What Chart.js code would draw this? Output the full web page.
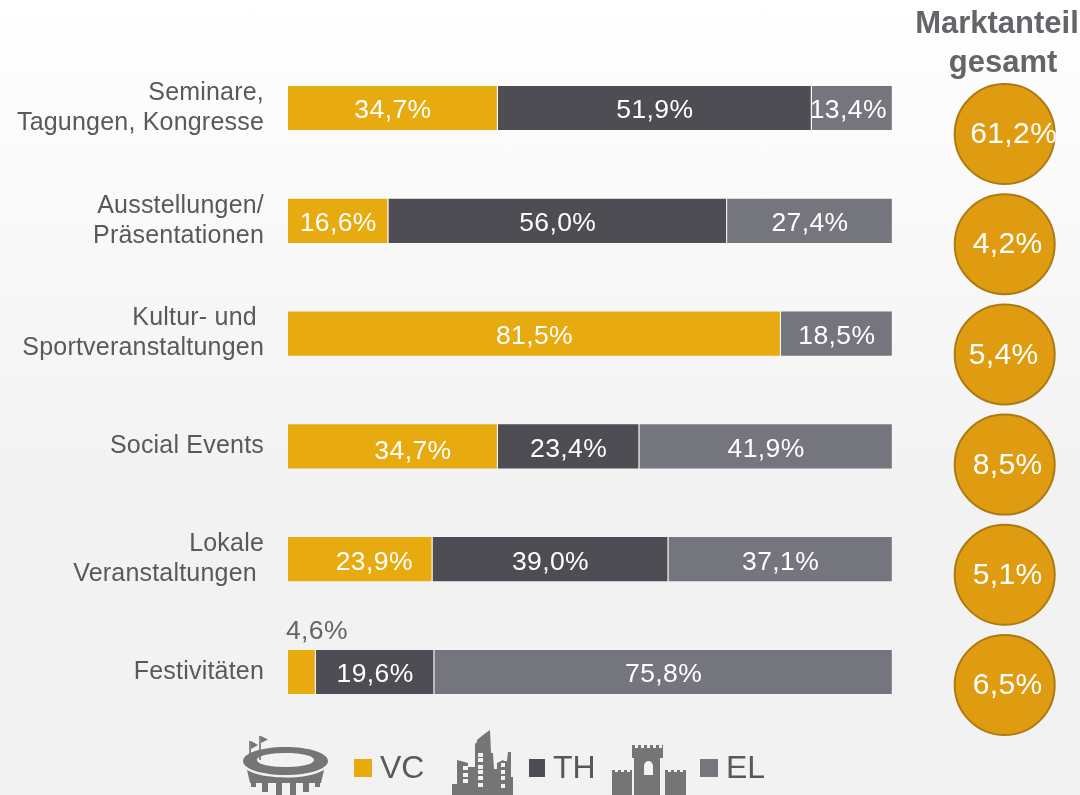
<!DOCTYPE html>
<html lang="de">
<head>
<meta charset="utf-8">
<title>Marktanteil</title>
<script src="https://cdn.jsdelivr.net/npm/chart.js@4"></script>
<style>
html,body{margin:0;padding:0;width:1080px;height:795px;overflow:hidden;background:linear-gradient(#ffffff 0,#fdfdfd 60px,#f2f2f2 500px,#f2f2f2 795px);}
#wrap{position:absolute;left:0;top:0;width:1080px;height:795px}
canvas{position:absolute;left:0;top:0}
svg{position:absolute;left:0;top:0;filter:blur(0.6px)}
</style>
</head>
<body>
<div id="wrap">
<svg width="1080" height="795" viewBox="0 0 1080 795" aria-hidden="true">
  <g fill="#757575" stroke="none">
    <!-- stadium -->
    <path d="M250 766V741M260 760V736" stroke="#8a8a8a" stroke-width="2"/>
    <path d="M251 741l7 4-7 4zM261 736l7 3.500-7 3.500z"/>
    <path fill-rule="evenodd" d="M243 761c0-8 19-14 42.500-14s42.500 6 42.500 14-19 14-42.500 14-42.500-6-42.500-14zM257 760c0 4 12 7 28.500 7s28.500-3 28.500-7-12-7-28.500-7-28.500 3-28.500 7z"/>
    <path d="M247 770C258 776 272 777.500 285.500 777.500S313 776 324 770L321 783H250Z"/>
    <rect x="251" y="782" width="5" height="5"/><rect x="262" y="782" width="6" height="10"/><rect x="276" y="782" width="6" height="13"/><rect x="290" y="782" width="6" height="13"/><rect x="303" y="782" width="6" height="10"/><rect x="315" y="782" width="5" height="5"/>
    <!-- city -->
    <path fill-rule="evenodd" d="M452 795v-11h5v-24l4 1 7 2v4h7v-23l2-2v-2l6-5 7-5 1 23h2v1l1 15h3v-6l6-3 1 1h3l1-9h3v25h2v19zM478 753h5v4h-5zM478 758h5v4h-5zM478 765h5v4h-5zM478 770h5v4h-5zM478 776h5v4h-5zM478 783h5v4h-5zM463 766h5v4h-5zM463 773h5v4h-5zM463 779h5v4h-5zM501 763h4v4h-4zM501 770h4v4h-4zM501 776h4v4h-4zM501 784h4v4h-4z"/>
    <!-- castle -->
    <path d="M612 795v-25h3v2h3v-2h3v2h3v-2h3v2h3v-2h2v25z"/>
    <path d="M665 795v-25h3v2h3v-2h3v2h3v-2h3v2h3v-2h3v25z"/>
    <path fill-rule="evenodd" d="M634 795v-37h-2v-13h3v3h3v-3h3v3h3v-3h3v3h3v-3h3v3h3v-3h3v3h3v-3h1v13h-3v37zM644 775h9v-9c0-3-2-5-4.500-5s-4.500 2-4.500 5z"/>
  </g>
</svg>
<canvas id="c" width="1080" height="795"></canvas>
</div>
<script>
const categories = [["Seminare,","Tagungen, Kongresse"],["Ausstellungen/","Präsentationen"],["Kultur- und ","Sportveranstaltungen"],"Social Events",["Lokale","Veranstaltungen "],"Festivitäten"];
const vcValues = [34.7,16.6,81.5,34.7,23.9,4.6];
const thValues = [51.9,56.0,null,23.4,39.0,19.6];
const elValues = [13.4,27.4,18.5,41.9,37.1,75.8];
const shareValues = [61.2,4.2,5.4,8.5,5.1,6.5];
const seriesNames = ["VC","TH","EL"];
const seriesColors = ["#E8AB0F","#4E4D54","#75757D"];

const pct = v => v.toFixed(1).replace(".",",")+"%";
const barNudge = {"0,2":[-4,0],"3,0":[20,2],"4,0":[14,0],"5,0":[15,-43]};
const circleNudge = [9,3,-1,3,3,3];
const legendLayout = [{sq:354,w:18,tx:380},{sq:529,w:16,tx:553},{sq:700,w:18,tx:726}];

const overlay = {
  id:"overlay",
  beforeDraw(chart){ chart.ctx.letterSpacing="0.2px"; },
  afterDatasetsDraw(chart){
    const ctx = chart.ctx;
    ctx.save();
    ctx.textAlign="center"; ctx.textBaseline="middle";
    ctx.font='26.5px "Liberation Sans"';
    ctx.letterSpacing="0.4px";
    [0,1,2].forEach(ds=>{
      chart.getDatasetMeta(ds).data.forEach((el,i)=>{
        const v = chart.data.datasets[ds].data[i];
        if(v==null) return;
        const n = barNudge[i+","+ds] || [0,0];
        ctx.fillStyle = (i===5&&ds===0) ? "#646469" : "#ffffff";
        ctx.fillText(pct(v),(el.x+el.base)/2+n[0],el.y+3+n[1]);
      });
    });
    ctx.font='30px "Liberation Sans"';
    ctx.fillStyle="#ffffff";
    chart.getDatasetMeta(3).data.forEach((el,i)=>{
      ctx.fillText(pct(shareValues[i]),el.x+circleNudge[i],el.y+1);
    });
    ctx.fillStyle="#646469";
    ctx.font='bold 31px "Liberation Sans"';
    ctx.letterSpacing="0px";
    ctx.fillText("Marktanteil",997,24);
    ctx.fillText("gesamt",1003,63);
    ctx.textAlign="left";
    ctx.font='32px "Liberation Sans"';
    seriesNames.forEach((name,i)=>{
      const l=legendLayout[i];
      ctx.fillStyle=seriesColors[i];
      ctx.fillRect(l.sq,759,l.w,18);
      ctx.fillStyle="#595959";
      ctx.fillText(name,l.tx,769);
    });
    ctx.restore();
  }
};

const barSet = (i,data)=>({type:"bar",indexAxis:"y",label:seriesNames[i],data,backgroundColor:seriesColors[i],borderColor:"rgba(255,255,255,0.28)",borderWidth:1,categoryPercentage:1,barPercentage:0.41,xAxisID:"x",yAxisID:"y",order:2});

new Chart(document.getElementById("c"),{
  data:{
    labels:categories,
    datasets:[
      barSet(0,vcValues),
      barSet(1,thValues),
      barSet(2,elValues),
      {type:"scatter",label:"Marktanteil gesamt",data:shareValues.map((v,i)=>({x:118.5,y:i})),
       backgroundColor:"#E09C11",borderColor:"#AD7A12",borderWidth:2,pointRadius:50,xAxisID:"x",yAxisID:"y2",order:1,clip:false}
    ]
  },
  options:{
    responsive:false,animation:false,events:[],
    layout:{autoPadding:false,padding:{top:51.6,bottom:66.6,left:0,right:0}},
    plugins:{legend:{display:false},title:{display:false},tooltip:{enabled:false}},
    scales:{
      x:{type:"linear",stacked:true,min:0,max:130.95,display:false},
      y:{type:"category",stacked:true,position:"left",offset:true,
         grid:{display:false,drawTicks:false,offset:true},border:{display:false},
         afterFit(s){s.width=288;},
         ticks:{color:"#595959",padding:24,autoSkip:false,font:{family:'"Liberation Sans"',size:25,lineHeight:1.2}}},
      y2:{type:"linear",reverse:true,min:-0.748,max:5.394,display:false}
    }
  },
  plugins:[overlay]
});
</script>
</body>
</html>
